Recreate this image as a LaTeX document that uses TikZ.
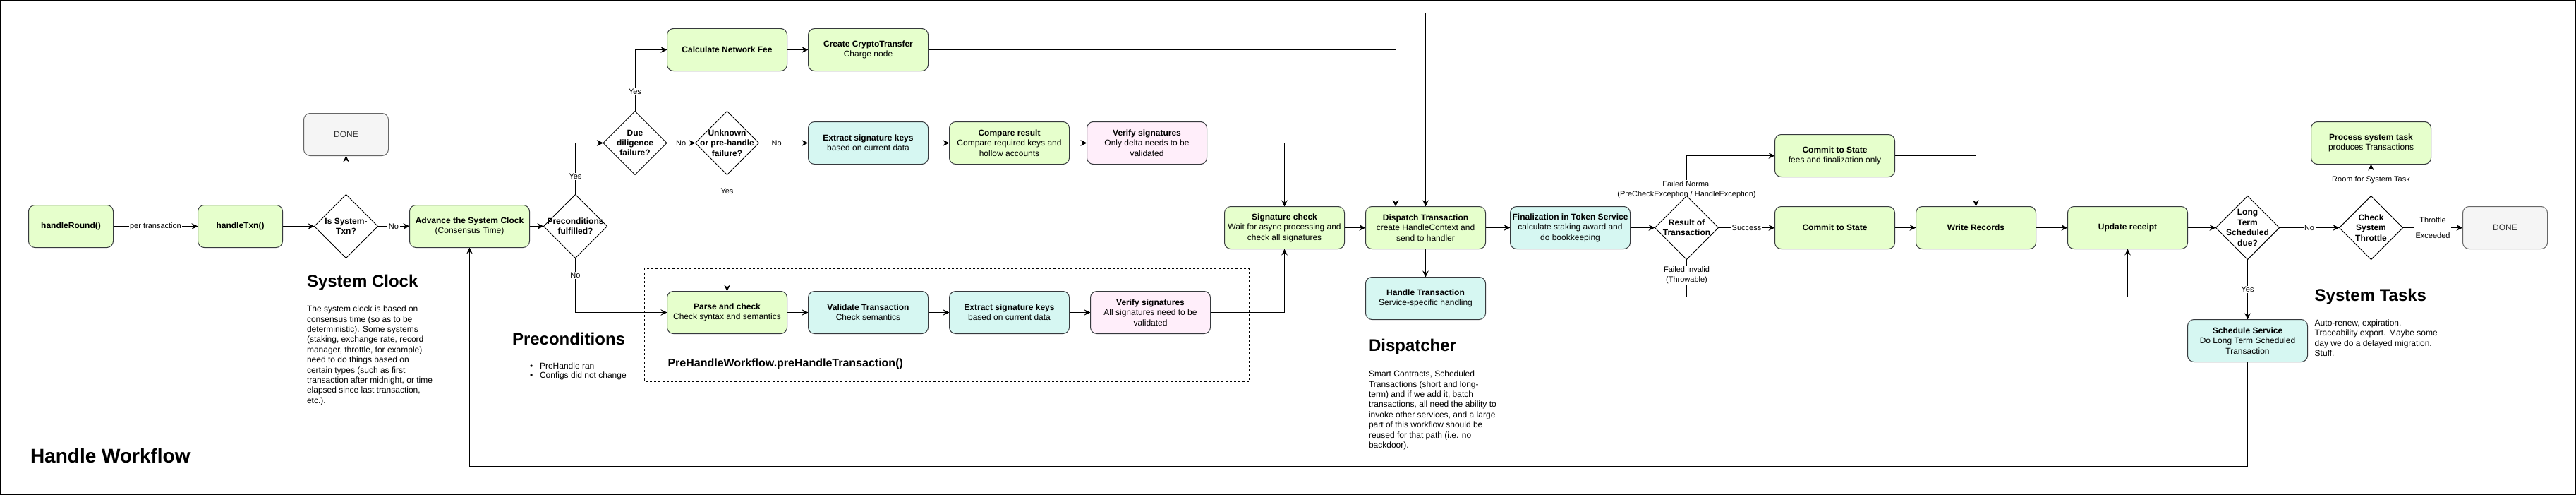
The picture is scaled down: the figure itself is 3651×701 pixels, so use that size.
\documentclass[tikz,border=0pt]{standalone}
\usepackage{fontspec}
\setmainfont{Liberation Sans}
\usetikzlibrary{arrows.meta,shapes.geometric,backgrounds}
\definecolor{gfill}{HTML}{E6FFCC}
\definecolor{cfill}{HTML}{D6F7F2}
\definecolor{pfill}{HTML}{FFEEFA}
\definecolor{bstroke}{HTML}{36393D}
\definecolor{dfill}{HTML}{F5F5F5}
\definecolor{dstroke}{HTML}{666666}
\definecolor{dtext}{HTML}{333333}
\begin{document}
\begin{tikzpicture}[x=1pt,y=-1pt,
  every node/.style={inner sep=0pt, outer sep=0pt},
  base/.style={rounded corners=9pt, line width=1pt, align=center, minimum height=60pt, font=\fontsize{12}{14.4}\selectfont},
  gbox/.style={base, draw=bstroke, fill=gfill, minimum width=170pt},
  cbox/.style={base, draw=bstroke, fill=cfill, minimum width=170pt},
  pbox/.style={base, draw=bstroke, fill=pfill, minimum width=170pt},
  donebox/.style={base, draw=dstroke, fill=dfill, text=dtext, minimum width=120pt},
  dia/.style={diamond, draw=black, fill=white, line width=1pt, minimum width=90pt, minimum height=90pt, inner sep=0pt},
  dlab/.style={font={\fontsize{12}{14.4}\selectfont\bfseries}, align=center},
  elab/.style={font=\fontsize{11}{14}\selectfont, fill=white, inner sep=1.5pt, align=center},
  arr/.style={-{Stealth[length=9pt,width=8.5pt,inset=3pt]}, line width=1pt},
  head/.style={font={\fontsize{24}{29}\selectfont\bfseries}},
  para/.style={font=\fontsize{12}{14.4}\selectfont, align=left}
]
\path[use as bounding box] (0,0) rectangle (3651,701);
\draw[line width=1pt] (0.5,0.5) rectangle (3650.5,700.5);

% dashed group
\draw[line width=1pt, dash pattern=on 3pt off 3pt] (913,380) rectangle (1770.5,540);

% nodes
\node[gbox, minimum width=120pt] (hr) at (100.5,320.5) {\textbf{handleRound()}};
\node[gbox, minimum width=120pt] (ht) at (340.5,320.5) {\textbf{handleTxn()}};
\node[dia, label={[dlab]center:Is System-\\Txn?}] (isd) at (490.5,320.5) {};
\node[donebox] (done1) at (490.5,190.5) {DONE};
\node[gbox] (adv) at (665.5,320.5) {\textbf{Advance the System Clock}\\(Consensus Time)};
\node[dia, label={[dlab]center:Preconditions\\fulfilled?}] (pre) at (815.5,320.5) {};
\node[dia, label={[dlab]center:Due\\diligence\\failure?}] (due) at (900,202.5) {};
\node[dia, label={[dlab]center:Unknown\\or pre-handle\\failure?}] (unk) at (1030.5,202.5) {};
\node[gbox] (fee) at (1030.5,70.5) {\textbf{Calculate Network Fee}};
\node[gbox] (cct) at (1230.5,70.5) {\textbf{Create CryptoTransfer}\\Charge node};
\node[cbox] (ex1) at (1230.5,202.5) {\textbf{Extract signature keys}\\based on current data};
\node[gbox] (cmp) at (1430.5,202.5) {\textbf{Compare result}\\Compare required keys and\\hollow accounts};
\node[pbox] (ver1) at (1625.5,202.5) {\textbf{Verify signatures}\\Only delta needs to be\\validated};
\node[gbox] (parse) at (1030.5,442.5) {\textbf{Parse and check}\\Check syntax and semantics};
\node[cbox] (val) at (1230.5,442.5) {\textbf{Validate Transaction}\\Check semantics};
\node[cbox] (ex2) at (1430.5,442.5) {\textbf{Extract signature keys}\\based on current data};
\node[pbox] (ver2) at (1630.5,442.5) {\textbf{Verify signatures}\\All signatures need to be\\validated};
\node[gbox] (sig) at (1820.5,322.5) {\textbf{Signature check}\\Wait for async processing and\\check all signatures};
\node[gbox] (disp) at (2020.5,322.5) {\textbf{Dispatch Transaction}\\create HandleContext and\\send to handler};
\node[cbox] (htx) at (2020.5,422.5) {\textbf{Handle Transaction}\\Service-specific handling};
\node[cbox] (fin) at (2225.5,322.5) {\textbf{Finalization in Token Service}\\calculate staking award and\\do bookkeeping};
\node[dia, label={[dlab]center:Result of\\Transaction}] (res) at (2390.5,322.5) {};
\node[gbox] (cfee) at (2600.5,220.5) {\textbf{Commit to State}\\fees and finalization only};
\node[gbox] (com) at (2600.5,322.5) {\textbf{Commit to State}};
\node[gbox] (wr) at (2800.5,322.5) {\textbf{Write Records}};
\node[gbox] (upd) at (3015.5,322.5) {\textbf{Update receipt}};
\node[dia, label={[dlab]center:Long\\Term\\Scheduled\\due?}] (lt) at (3185.5,322.5) {};
\node[dia, label={[dlab]center:Check\\System\\Throttle}] (thr) at (3360.5,322.5) {};
\node[gbox] (proc) at (3360.5,202.5) {\textbf{Process system task}\\produces Transactions};
\node[donebox] (done2) at (3550.5,322.5) {DONE};
\node[cbox] (sched) at (3185.5,482.5) {\textbf{Schedule Service}\\Do Long Term Scheduled\\Transaction};

% headings and texts
\node[head, anchor=west] (hSC) at (435,400) {System Clock};
\node[para, anchor=north west] (tSC) at (435,433) {The system clock is based on\\consensus time (so as to be\\deterministic). Some systems\\(staking, exchange rate, record\\manager, throttle, for example)\\need to do things based on\\certain types (such as first\\transaction after midnight, or time\\elapsed since last transaction,\\etc.).};
\node[head, anchor=west] (hPre) at (726,480) {Preconditions};
\node[font=\fontsize{12}{13.4}\selectfont, align=left, anchor=north west] (tPre) at (751,513.3) {\makebox[14pt][l]{•}PreHandle ran\\\makebox[14pt][l]{•}Configs did not change};
\node[anchor=west, font={\fontsize{16}{19}\selectfont\bfseries}] (hPH) at (946.5,515) {PreHandleWorkflow.preHandleTransaction()};
\node[head, anchor=west] (hDisp) at (1940,491.7) {Dispatcher};
\node[para, anchor=north west] (tDisp) at (1940,525) {Smart Contracts, Scheduled\\Transactions (short and long-\\term) and if we add it, batch\\transactions, all need the ability to\\invoke other services, and a large\\part of this workflow should be\\reused for that path (i.e. no\\backdoor).};
\node[head, anchor=west] (hST) at (3280.7,420) {System Tasks};
\node[para, anchor=north west] (tST) at (3280.7,452.7) {Auto-renew, expiration.\\Traceability export. Maybe some\\day we do a delayed migration.\\Stuff.};
\node[anchor=west, font={\fontsize{28}{34}\selectfont\bfseries}] (hHW) at (43,645) {Handle Workflow};

% connectors
\begin{scope}[on background layer]
\draw[arr] (hr) -- node[elab]{per transaction} (ht);
\draw[arr] (ht) -- (isd);
\draw[arr] (isd) -- (done1);
\draw[arr] (isd) -- node[elab]{No} (adv);
\draw[arr] (adv) -- (pre);
\draw[arr] (pre.north) |- node[elab,pos=0.175]{Yes} (due.west);
\draw[arr] (pre.south) |- node[elab,pos=0.16]{No} (parse.west);
\draw[arr] (due.north) |- node[elab,pos=0.158]{Yes} (fee.west);
\draw[arr] (due) -- node[elab]{No} (unk);
\draw[arr] (unk) -- node[elab,pos=0.36]{No} (ex1);
\draw[arr] (unk) -- node[elab,pos=0.14]{Yes} (parse);
\draw[arr] (fee) -- (cct);
\draw[arr] (cct.east) -| ([xshift=-42.5pt]disp.north);
\draw[arr] (ex1) -- (cmp);
\draw[arr] (cmp) -- (ver1);
\draw[arr] (ver1.east) -| (sig.north);
\draw[arr] (parse) -- (val);
\draw[arr] (val) -- (ex2);
\draw[arr] (ex2) -- (ver2);
\draw[arr] (ver2.east) -| (sig.south);
\draw[arr] (sig) -- (disp);
\draw[arr] (disp) -- (htx);
\draw[arr] (disp) -- (fin);
\draw[arr] (fin) -- (res);
\draw[arr] (res) -- node[elab]{Success} (com);
\draw[arr] (res.north) |- node[elab,pos=0.074]{Failed Normal\\(PreCheckException / HandleException)} (cfee.west);
\draw[arr] (res.south) -- node[elab,pos=0.43]{Failed Invalid\\(Throwable)} (res.south |- 0,420) -| (upd.south);
\draw[arr] (cfee.east) -| (wr.north);
\draw[arr] (com) -- (wr);
\draw[arr] (wr) -- (upd);
\draw[arr] (upd) -- (lt);
\draw[arr] (lt) -- node[elab]{No} (thr);
\draw[arr] (lt) -- node[elab]{Yes} (sched);
\draw[arr] (thr) -- node[elab]{Room for System Task} (proc);
\draw[arr] (thr) -- node[elab, font=\fontsize{11}{22.4}\selectfont]{Throttle\\Exceeded} (done2);
\draw[arr] (proc.north) -- (proc.north |- 0,19) -| (disp.north);
\draw[arr] (sched.south) -- (sched.south |- 0,660) -| (adv.south);
\end{scope}
\end{tikzpicture}
\end{document}
